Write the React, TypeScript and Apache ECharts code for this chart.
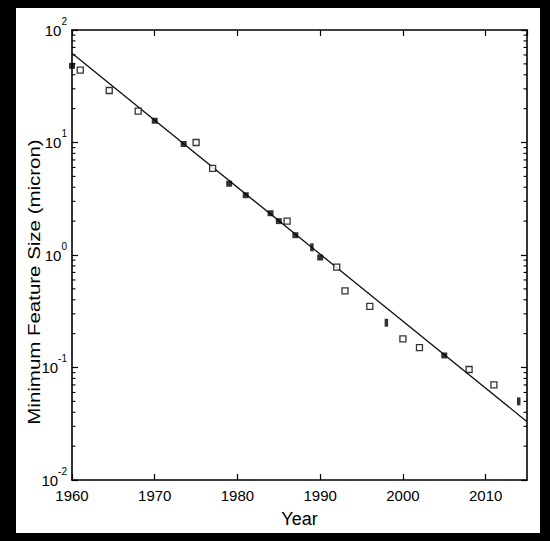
import React, { useEffect, useRef } from "react";
import * as echarts from "echarts";

// ---- data ----
const openYears = [1961, 1964.5, 1968, 1975, 1977, 1986, 1992, 1993, 1996, 2000, 2002, 2008, 2011];
const openValues = [44, 29, 19, 10, 5.9, 2.0, 0.78, 0.48, 0.35, 0.18, 0.15, 0.096, 0.07];

const filledYears = [1960, 1970, 1973.5, 1979, 1981, 1984, 1985, 1987, 1990, 2005];
const filledValues = [48, 15.6, 9.7, 4.3, 3.4, 2.35, 2.0, 1.5, 0.95, 0.128];

const narrowYears = [1989, 1998, 2014];
const narrowValues = [1.17, 0.25, 0.05];

const fitYears = [1960, 2015];
const fitValues = [62, 0.033];

const minorTickValues = [
  0.02, 0.03, 0.04, 0.05, 0.06, 0.07, 0.08, 0.09,
  0.2, 0.3, 0.4, 0.5, 0.6, 0.7, 0.8, 0.9,
  2, 3, 4, 5, 6, 7, 8, 9,
  20, 30, 40, 50, 60, 70, 80, 90,
];

const xMin = 1960;
const xMax = 2015;
const xInterval = 10;
const yMin = 0.01;
const yMax = 100;

const xAxisName = "Year";
const yAxisName = "Minimum Feature Size (micron)";

const FONT = "'Liberation Sans', Arial, Helvetica, sans-serif";

export default function App() {
  const ref = useRef<HTMLDivElement>(null);

  useEffect(() => {
    if (!ref.current) return;
    const chart = echarts.init(ref.current, null, { renderer: "svg" });

    const axisLineStyle = { color: "#000", width: 1.6 };

    const baseX = {
      type: "value" as const,
      min: xMin,
      max: xMax,
      interval: xInterval,
      splitLine: { show: false },
      axisLine: { show: true, onZero: false, lineStyle: axisLineStyle },
      axisTick: { show: true, inside: true, length: 6, lineStyle: { color: "#000", width: 1.2 } },
    };

    const baseY = {
      type: "log" as const,
      logBase: 10,
      min: yMin,
      max: yMax,
      splitLine: { show: false },
      axisLine: { show: true, onZero: false, lineStyle: axisLineStyle },
      axisTick: { show: true, inside: true, length: 6, lineStyle: { color: "#000", width: 1.2 } },
    };

    const option: any = {
      animation: false,
      backgroundColor: "#fff",
      grid: { left: 72, top: 30, width: 455, height: 450, containLabel: false },
      xAxis: [
        {
          ...baseX,
          position: "bottom",
          name: xAxisName,
          nameLocation: "middle",
          nameGap: 30,
          nameTextStyle: { fontFamily: FONT, fontSize: 18, color: "#000" },
          axisLabel: {
            show: true,
            margin: 8,
            showMaxLabel: false,
            formatter: (v: number) => String(v),
            fontFamily: FONT,
            fontSize: 15,
            color: "#000",
          },
        },
        {
          ...baseX,
          position: "top",
          axisLabel: { show: false },
        },
      ],
      yAxis: [
        {
          ...baseY,
          position: "left",
          axisLabel: {
            show: true,
            margin: 5,
            formatter: (v: number) => {
              const e = Math.round(Math.log10(v));
              return `{b|10}{s|${e}}`;
            },
            rich: {
              b: { fontFamily: FONT, fontSize: 15, lineHeight: 28, color: "#000" },
              s: { fontFamily: FONT, fontSize: 10, lineHeight: 12, verticalAlign: "top", color: "#000" },
            },
          },
        },
        {
          ...baseY,
          position: "right",
          axisLabel: { show: false },
        },
      ],
      graphic: [
        { type: "rect", shape: { x: 0, y: 0, width: 16, height: 541 }, style: { fill: "#000" } },
        { type: "rect", shape: { x: 0, y: 0, width: 550, height: 8 }, style: { fill: "#000" } },
        { type: "rect", shape: { x: 540, y: 0, width: 10, height: 541 }, style: { fill: "#000" } },
        { type: "rect", shape: { x: 0, y: 533, width: 550, height: 8 }, style: { fill: "#000" } },
        {
          type: "text",
          x: 34,
          y: 282,
          rotation: Math.PI / 2,
          scaleX: 1.28,
          style: {
            text: yAxisName,
            fontFamily: FONT,
            fontSize: 16,
            fill: "#000",
            align: "center",
            verticalAlign: "middle",
          },
        },
      ],
      series: [
        {
          type: "custom",
          coordinateSystem: "cartesian2d",
          xAxisIndex: 0,
          yAxisIndex: 0,
          silent: true,
          clip: false,
          z: 5,
          data: minorTickValues.map((v) => [xMin, v]),
          renderItem: (_params: any, api: any) => {
            const v = api.value(1);
            const l = api.coord([xMin, v]);
            const r = api.coord([xMax, v]);
            const st = { stroke: "#000", lineWidth: 1.1 };
            return {
              type: "group",
              children: [
                { type: "line", shape: { x1: l[0], y1: l[1], x2: l[0] + 3.5, y2: l[1] }, style: st },
                { type: "line", shape: { x1: r[0] - 3.5, y1: r[1], x2: r[0], y2: r[1] }, style: st },
              ],
            };
          },
        },
        {
          type: "line",
          xAxisIndex: 0,
          yAxisIndex: 0,
          data: fitYears.map((y, i) => [y, fitValues[i]]),
          showSymbol: false,
          symbol: "none",
          lineStyle: { color: "#111", width: 1.3 },
          z: 3,
        },
        {
          type: "scatter",
          xAxisIndex: 0,
          yAxisIndex: 0,
          data: openYears.map((y, i) => [y, openValues[i]]),
          symbol: "rect",
          symbolSize: 6,
          itemStyle: { color: "#fff", borderColor: "#000", borderWidth: 1.3 },
          z: 4,
        },
        {
          type: "scatter",
          xAxisIndex: 0,
          yAxisIndex: 0,
          data: filledYears.map((y, i) => [y, filledValues[i]]),
          symbol: "rect",
          symbolSize: 6,
          itemStyle: { color: "#000" },
          z: 4,
        },
        {
          type: "scatter",
          xAxisIndex: 0,
          yAxisIndex: 0,
          data: narrowYears.map((y, i) => [y, narrowValues[i]]),
          symbol: "rect",
          symbolSize: [3.5, 8],
          itemStyle: { color: "#000" },
          z: 4,
        },
      ],
    };

    chart.setOption(option);
    return () => chart.dispose();
  }, []);

  return (
    <div
      ref={ref}
      style={{ position: "absolute", left: 0, top: 0, width: 550, height: 541, background: "#fff" }}
    />
  );
}
